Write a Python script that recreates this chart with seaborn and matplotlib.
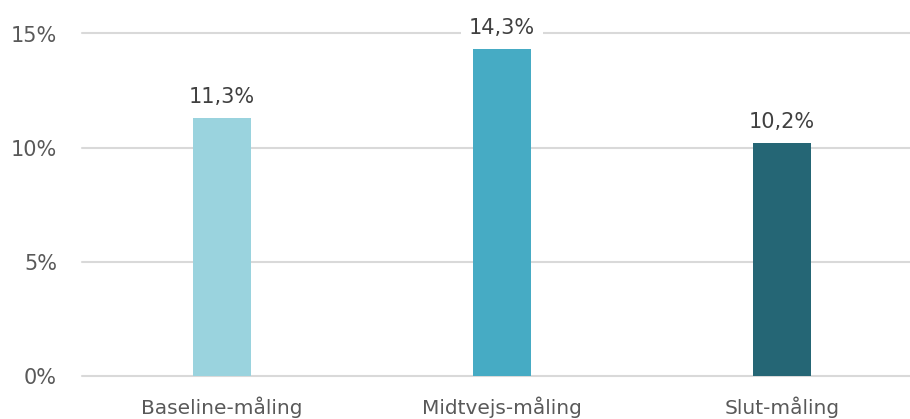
import matplotlib
matplotlib.use("Agg")
import matplotlib.pyplot as plt
import seaborn as sns
import pandas as pd

categories = ["Baseline-måling", "Midtvejs-måling", "Slut-måling"]
values = [11.3, 14.3, 10.2]
labels = ["11,3%", "14,3%", "10,2%"]
colors = ["#9AD3DE", "#46ABC4", "#256675"]
yticks = [0, 5, 10, 15]
ytick_labels = ["0%", "5%", "10%", "15%"]

sns.set_theme(style="white")
plt.rcParams["font.family"] = ["DejaVu Sans"]

df = pd.DataFrame({"cat": categories, "val": values})

fig = plt.figure(figsize=(9.10, 4.19), dpi=100)
W, H = 910, 419
left, right, bottom, top = 82, 922, 375.7, 33.5
ax = fig.add_axes([left / W, (H - bottom) / H, (right - left) / W, (bottom - top) / H])

sns.barplot(data=df, x="cat", y="val", hue="cat", palette=colors, width=0.21,
            legend=False, ax=ax, saturation=1, zorder=3, edgecolor="none", linewidth=0)

ax.set_xlim(-0.5, 2.5)
ax.set_ylim(0, 15)
ax.set_yticks(yticks)
ax.set_yticklabels(ytick_labels)
ax.yaxis.grid(True, color="#D9D9D9", linewidth=1.5, zorder=0)
for gl in ax.get_ygridlines():
    gl.set_clip_on(False)
ax.set_axisbelow(True)
for s in ax.spines.values():
    s.set_visible(False)
ax.set_xlabel("")
ax.set_ylabel("")
ax.tick_params(axis="y", length=0, pad=18, labelsize=15, labelcolor="#595959")
ax.tick_params(axis="x", length=0, pad=15, labelsize=14.5, labelcolor="#595959")

for i, (v, lab) in enumerate(zip(values, labels)):
    ax.annotate(lab, xy=(i, v), xytext=(0, 8), textcoords="offset points",
                ha="center", va="bottom", fontsize=15, color="#404040",
                annotation_clip=False, zorder=5,
                bbox=dict(boxstyle="square,pad=0.4", facecolor="white", edgecolor="none"))

fig.savefig("out.png", dpi=100)
